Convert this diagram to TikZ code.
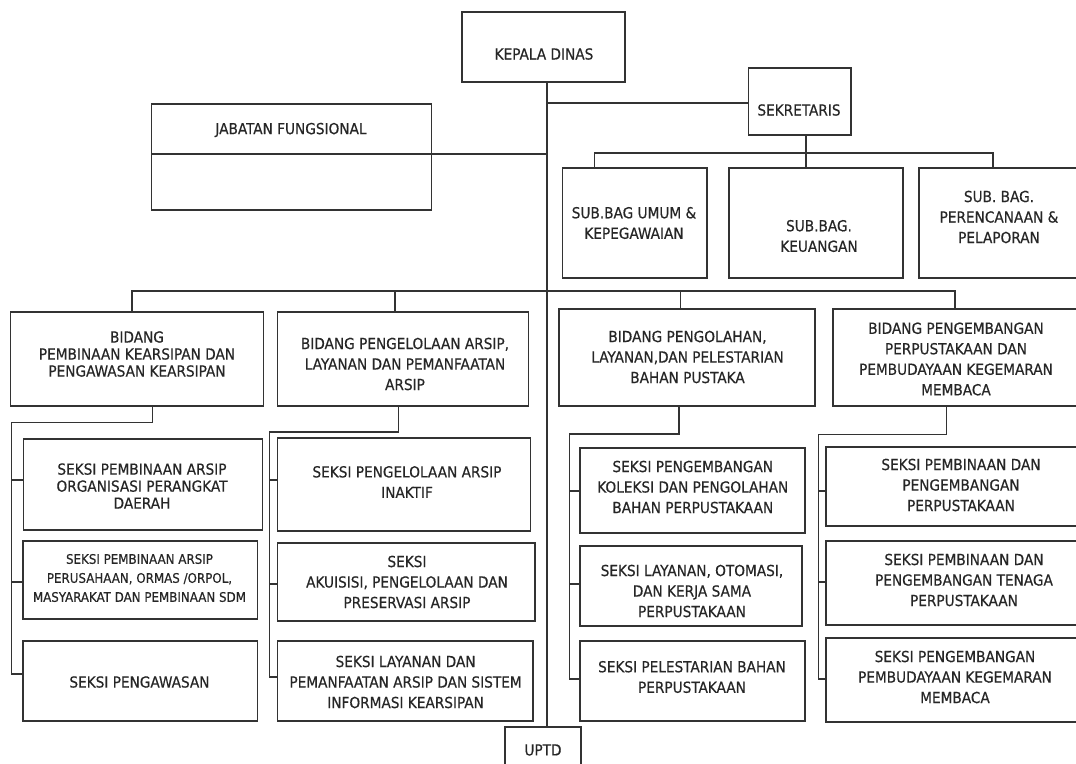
\documentclass[tikz,border=0pt]{standalone}
\usepackage{fontspec}
\setmainfont{DejaVu Sans Condensed}[BoldFont={DejaVu Sans Condensed}, BoldFeatures={FakeBold=0.5}]
\definecolor{ln}{HTML}{333333}
\definecolor{tx}{HTML}{262626}
\newcommand{\mkbox}[5]{\node[box, anchor=north west, minimum width={(#4-#2)*1pt}, minimum height={(#5-#3)*1pt}] (#1) at (#2,#3) {};}
\begin{document}
\begin{tikzpicture}[x=1pt,y=-1pt,
 box/.style={draw=ln, line width=1.6pt, inner sep=0pt, outer sep=0pt},
 txt/.style={align=center, text=tx, font=\fontsize{15.2}{20.5}\selectfont\bfseries, inner sep=0pt},
 tight/.style={font=\fontsize{15.2}{17}\selectfont\bfseries},
 small/.style={font=\fontsize{13.2}{19}\selectfont\bfseries},
 cn/.style={draw=ln, line width=1.6pt}]
\useasboundingbox (0,0) rectangle (1076,763);
\clip (0,0) rectangle (1076,763);
% boxes
\mkbox{kd}{462}{12}{625}{82}
\mkbox{sek}{748.5}{68}{851}{135}
\mkbox{jft}{151.5}{104}{431.5}{154}
\mkbox{jfb}{151.5}{154}{431.5}{210}
\mkbox{umum}{562.5}{168}{707}{278}
\mkbox{keu}{729}{168}{903}{278}
\mkbox{per}{919}{168}{1082}{278}
\mkbox{b1}{10.3}{312}{263.4}{406}
\mkbox{b2}{277.5}{312}{528.6}{406}
\mkbox{b3}{559}{309}{815}{406}
\mkbox{b4}{833}{309}{1082}{406}
\mkbox{s11}{23.4}{439}{262.4}{530}
\mkbox{s12}{22.7}{541}{257.6}{619}
\mkbox{s13}{22.7}{641}{257.6}{721}
\mkbox{s21}{277.5}{438}{530.3}{531}
\mkbox{s22}{277.5}{543}{534.8}{621}
\mkbox{s23}{277.5}{641}{533}{721}
\mkbox{s31}{580}{448}{805}{533}
\mkbox{s32}{580}{546}{801.8}{626}
\mkbox{s33}{580}{641}{805}{721}
\mkbox{s41}{826}{447}{1094}{526}
\mkbox{s42}{826}{541}{1094}{625}
\mkbox{s43}{826}{638}{1094}{722}
\mkbox{uptd}{505}{727}{581}{785}
% texts
\node[txt] (kd-t) at (544,54) {KEPALA DINAS};
\node[txt] (sek-t) at (799,110) {SEKRETARIS};
\node[txt] (jf-t) at (291,130) {JABATAN FUNGSIONAL};
\node[txt] (umum-t) at (634,223) {SUB.BAG UMUM \&\\KEPEGAWAIAN};
\node[txt] (keu-t) at (819,236) {SUB.BAG.\\KEUANGAN};
\node[txt] (per-t) at (999,217) {SUB. BAG.\\PERENCANAAN \&\\PELAPORAN};
\node[txt, tight] (b1-t) at (137,354) {BIDANG\\PEMBINAAN KEARSIPAN DAN\\PENGAWASAN KEARSIPAN};
\node[txt] (b2-t) at (405,364) {BIDANG PENGELOLAAN ARSIP,\\LAYANAN DAN PEMANFAATAN\\ARSIP};
\node[txt] (b3-t) at (687.5,357) {BIDANG PENGOLAHAN,\\LAYANAN,DAN PELESTARIAN\\BAHAN PUSTAKA};
\node[txt] (b4-t) at (956,359) {BIDANG PENGEMBANGAN\\PERPUSTAKAAN DAN\\PEMBUDAYAAN KEGEMARAN\\MEMBACA};
\node[txt, tight] (s11-t) at (142,486) {SEKSI PEMBINAAN ARSIP\\ORGANISASI PERANGKAT\\DAERAH};
\node[txt, small] (s12-t) at (139.5,578) {SEKSI PEMBINAAN ARSIP\\PERUSAHAAN, ORMAS /ORPOL,\\MASYARAKAT DAN PEMBINAAN SDM};
\node[txt] (s13-t) at (139.5,682) {SEKSI PENGAWASAN};
\node[txt] (s21-t) at (407,482) {SEKSI PENGELOLAAN ARSIP\\INAKTIF};
\node[txt] (s22-t) at (407,582) {SEKSI\\AKUISISI, PENGELOLAAN DAN\\PRESERVASI ARSIP};
\node[txt] (s23-t) at (405.6,682) {SEKSI LAYANAN DAN\\PEMANFAATAN ARSIP DAN SISTEM\\INFORMASI KEARSIPAN};
\node[txt] (s31-t) at (692.8,487) {SEKSI PENGEMBANGAN\\KOLEKSI DAN PENGOLAHAN\\BAHAN PERPUSTAKAAN};
\node[txt] (s32-t) at (692,591) {SEKSI LAYANAN, OTOMASI,\\DAN KERJA SAMA\\PERPUSTAKAAN};
\node[txt] (s33-t) at (692,677) {SEKSI PELESTARIAN BAHAN\\PERPUSTAKAAN};
\node[txt] (s41-t) at (961,485) {SEKSI PEMBINAAN DAN\\PENGEMBANGAN\\PERPUSTAKAAN};
\node[txt] (s42-t) at (964,580) {SEKSI PEMBINAAN DAN\\PENGEMBANGAN TENAGA\\PERPUSTAKAAN};
\node[txt] (s43-t) at (955,677) {SEKSI PENGEMBANGAN\\PEMBUDAYAAN KEGEMARAN\\MEMBACA};
\node[txt] (uptd-t) at (543,750) {UPTD};
% connectors
\coordinate (T) at (547,0);
\draw[cn] (kd.south -| T) -- (uptd.north -| T);
\draw[cn] (jft.south east) -- (jft.south east -| T);
\coordinate (SK) at (547,103);
\draw[cn] (SK) -- (SK -| sek.west);
\coordinate (SB) at (806,153);
\coordinate (D1) at (594.5,153);
\coordinate (D3) at (993,153);
\draw[cn] (sek.south -| SB) -- (keu.north -| SB);
\draw[cn] (umum.north -| D1) -- (D1) -- (D3) -- (per.north -| D3);
\coordinate (E1) at (132,291);
\coordinate (E2) at (395,291);
\coordinate (E3) at (680.6,291);
\coordinate (E4) at (955,291);
\draw[cn] (b1.north -| E1) -- (E1) -- (E4) -- (b4.north -| E4);
\draw[cn] (E2) -- (b2.north -| E2);
\draw[cn] (E3) -- (b3.north -| E3);
% column 1
\coordinate (F1) at (152.5,422.3);
\coordinate (G1) at (11.5,422.3);
\coordinate (H11) at (11.5,480);
\coordinate (H12) at (11.5,582);
\coordinate (H13) at (11.5,674);
\draw[cn] (b1.south -| F1) -- (F1) -- (G1) -- (H13) -- (H13 -| s13.west);
\draw[cn] (H11) -- (H11 -| s11.west);
\draw[cn] (H12) -- (H12 -| s12.west);
% column 2
\coordinate (F2) at (398.5,431.7);
\coordinate (G2) at (269.5,431.7);
\coordinate (H21) at (269.5,480);
\coordinate (H22) at (269.5,584);
\coordinate (H23) at (269.5,677);
\draw[cn] (b2.south -| F2) -- (F2) -- (G2) -- (H23) -- (H23 -| s23.west);
\draw[cn] (H21) -- (H21 -| s21.west);
\draw[cn] (H22) -- (H22 -| s22.west);
% column 3
\coordinate (F3) at (679,434);
\coordinate (G3) at (569.5,434);
\coordinate (H31) at (569.5,490.7);
\coordinate (H32) at (569.5,584);
\coordinate (H33) at (569.5,679);
\draw[cn] (b3.south -| F3) -- (F3) -- (G3) -- (H33) -- (H33 -| s33.west);
\draw[cn] (H31) -- (H31 -| s31.west);
\draw[cn] (H32) -- (H32 -| s32.west);
% column 4
\coordinate (F4) at (946.5,434.3);
\coordinate (G4) at (818.5,434.3);
\coordinate (H41) at (818.5,490.7);
\coordinate (H42) at (818.5,582);
\coordinate (H43) at (818.5,679);
\draw[cn] (b4.south -| F4) -- (F4) -- (G4) -- (H43) -- (H43 -| s43.west);
\draw[cn] (H41) -- (H41 -| s41.west);
\draw[cn] (H42) -- (H42 -| s42.west);
\end{tikzpicture}
\end{document}
